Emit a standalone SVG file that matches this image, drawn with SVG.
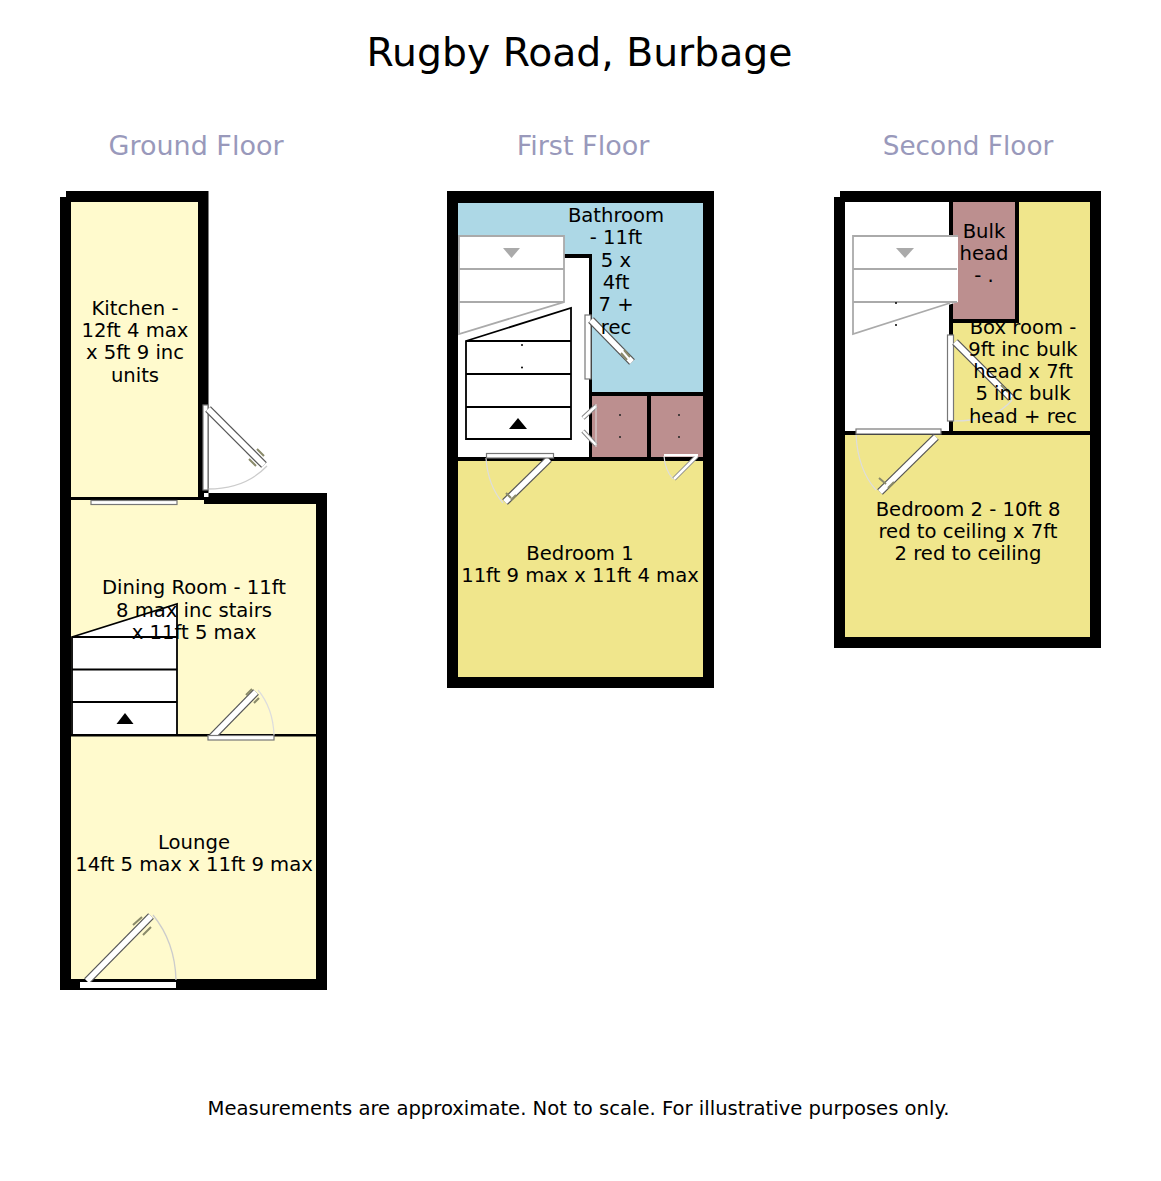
<svg xmlns="http://www.w3.org/2000/svg" width="1161" height="1181" viewBox="0 0 1161 1181">
<style>
text{font-family:"DejaVu Sans",sans-serif;fill:#000;text-anchor:middle}
.t{font-size:39.3px}.h{font-size:27px;fill:#9999bb}.h3{font-size:26.300px}.l{font-size:19.6px}.f{font-size:19.6px}
.w{fill:#000}.s{fill:#fff;stroke:#000;stroke-width:1.800}.g{fill:#fff;stroke:#aaa;stroke-width:1.800}
.d{fill:#fff;stroke:#777;stroke-width:1.200}.a{fill:none;stroke:#ccc;stroke-width:1.300}.a2{fill:none;stroke:#ddd;stroke-width:1.200}.hd{fill:none;stroke:#8a8a6a;stroke-width:2}
.lo{stroke:#555;stroke-width:8}.li{stroke:#fff;stroke-width:5.500}.so{stroke:#888;stroke-width:4.500}.si{stroke:#fff;stroke-width:2.500}
.y1{fill:#fffacd}.y2{fill:#f0e68c}.b{fill:#add8e6}.p{fill:#bc8f8f}
</style>
<rect width="1161" height="1181" fill="#fff"/>
<g id="titles">
<text class="t" x="579.500" y="65.500">Rugby Road, Burbage</text>
<text class="h" x="196" y="155">Ground Floor</text>
<text class="h" x="583" y="155">First Floor</text>
<text class="h h3" x="968" y="155">Second Floor</text>
<text class="f" x="578.500" y="1115">Measurements are approximate. Not to scale. For illustrative purposes only.</text>
</g>
<g id="ground-floor">
<g id="kitchen"><rect class="y1" x="71" y="202" width="127" height="295"/><text class="l" x="135" y="315">Kitchen -</text><text class="l" x="135" y="337">12ft 4 max</text><text class="l" x="135" y="359">x 5ft 9 inc</text><text class="l" x="135" y="382">units</text></g>
<g id="dining-room"><rect class="y1" x="71" y="500" width="245" height="234"/>
<rect class="y1" x="71" y="497" width="133" height="8"/></g>
<g id="lounge"><rect class="y1" x="71" y="736" width="245" height="243"/><text class="l" x="194" y="849">Lounge</text><text class="l" x="194" y="871">14ft 5 max x 11ft 9 max</text></g>
<path class="w" d="M66 191H208.500V497H204V493H327V990H60V197H66V191ZM71 202V979H316V504H204V500H71V497H198V202Z" fill-rule="evenodd"/>
<rect class="w" x="71" y="497" width="127" height="3"/><rect class="w" x="71" y="734" width="245" height="2.500"/>
<g id="ground-stairs">
<path class="s" d="M72 637L177 604V735H72Z"/><path class="s" d="M72 637H177M72 669.500H177M72 702H177" fill="none"/><path class="w" d="M125 713L133.500 724H116.500Z"/>
</g>
<g id="dining-text"><text class="l" x="194" y="594">Dining Room - 11ft</text><text class="l" x="194" y="617">8 max inc stairs</text><text class="l" x="194" y="639">x 11ft 5 max</text></g>
<g id="ground-doors">
<rect class="d" x="91" y="500.500" width="86" height="4"/>
<path class="a" d="M208 489Q245 489 267 466"/><rect class="d" x="203" y="405" width="5" height="85"/><path class="lo" d="M208 409L264 465"/><path class="li" d="M208 409L264 465"/><path class="hd" d="M257 449L264 456M249 459L256 466"/>
<path class="a2" d="M274 735Q273 708 258 690"/><path class="lo" d="M212 737L256 692"/><path class="li" d="M212 737L256 692"/><path class="hd" d="M246 695L252 689M254 703L259 698"/><rect class="d" x="208" y="735.500" width="66" height="4.500"/>
<path class="a" d="M176 980Q175 942 153 915"/><path class="lo" d="M87 981L151 916"/><path class="li" d="M87 981L151 916"/><path class="hd" d="M133 925L142 917M143 935L151 927"/><rect fill="#fff" x="80" y="982" width="96" height="6"/>
</g>
</g>
<g id="first-floor">
<g id="bathroom"><rect class="b" x="458" y="203" width="245" height="189"/></g>
<g id="hall-first"><rect fill="#fff" x="458" y="256" width="131" height="201"/></g>
<g id="cupboards"><rect class="p" x="592" y="396" width="55" height="61"/><rect class="p" x="651" y="396" width="52" height="61"/></g>
<g id="bedroom-1"><rect class="y2" x="458" y="461" width="245" height="216"/><text class="l" x="580" y="560">Bedroom 1</text><text class="l" x="580" y="582">11ft 9 max x 11ft 4 max</text></g>
<path class="w" d="M447 191H714V688H447ZM458 203V677H703V203Z" fill-rule="evenodd"/>
<rect class="w" x="564" y="254" width="28" height="4"/><rect class="w" x="589" y="254" width="3" height="206"/><rect class="w" x="589" y="392" width="114" height="4"/><rect class="w" x="647" y="392" width="4" height="68"/><rect class="w" x="458" y="457" width="245" height="4"/>
<g id="first-stairs-up"><path class="g" d="M459 236H564V302L459 334Z"/><path class="g" d="M459 269H564M459 302H564"/><path fill="#aaa" d="M503 248H520L511.500 258Z"/></g>
<g id="first-stairs-down"><path class="s" d="M466 341L571 308V439H466Z"/><path class="s" d="M466 341H571M466 374H571M466 407H571"/><path class="w" d="M518 418L527 429H509Z"/><circle cx="522" cy="345" r="1"/><circle cx="522" cy="367.500" r="1"/></g>
<g id="first-dots" fill="#222"><circle cx="620" cy="415" r="1"/><circle cx="620" cy="437" r="1"/><circle cx="679" cy="415" r="1"/><circle cx="679" cy="437" r="1"/></g>
<g id="first-doors">
<rect class="d" x="585" y="315" width="6" height="64"/><path class="lo" d="M591 320L632 362"/><path class="li" d="M591 320L632 362"/><path class="hd" d="M621 353L627 360M624 350L630 357"/>
<path class="a2" d="M486 458Q488 486 503 503"/><path class="lo" d="M549 459L505 502"/><path class="li" d="M549 459L505 502"/><path class="hd" d="M506 493L511 498M511 500L516 495"/><rect class="d" x="486.500" y="453.500" width="67" height="4.500"/>
<path class="so" d="M596 406L583 418M596 445L583 431"/><path class="si" d="M596 406L583 418M596 445L583 431"/><path fill="none" stroke="#ddd" d="M596 404V447"/>
<path class="a2" d="M664 456Q665 470 673 479"/><path class="so" d="M697 456L674 479"/><path class="si" d="M697 456L674 479"/><rect fill="#fff" x="664" y="454" width="34" height="2.500"/>
</g>
<g id="bathroom-text"><text class="l" x="616" y="222">Bathroom</text><text class="l" x="616" y="244">- 11ft</text><text class="l" x="616" y="267">5 x</text><text class="l" x="616" y="289">4ft</text><text class="l" x="616" y="311">7 +</text><text class="l" x="616" y="334">rec</text></g>
</g>
<g id="second-floor">
<g id="box-room"><rect class="y2" x="953" y="202" width="137" height="229"/></g>
<g id="bedroom-2"><rect class="y2" x="845" y="435" width="245" height="202"/><text class="l" x="968" y="516">Bedroom 2 - 10ft 8</text><text class="l" x="968" y="538">red to ceiling x 7ft</text><text class="l" x="968" y="560">2 red to ceiling</text></g>
<g id="bulk-head"><rect class="p" x="953" y="202" width="62" height="117"/><text class="l" x="984" y="238">Bulk</text><text class="l" x="984" y="260">head</text><text class="l" x="984" y="282">- .</text></g>
<path class="w" d="M840 191H1101V648H834V197H840ZM845 202V637H1090V202Z" fill-rule="evenodd"/>
<rect class="w" x="949" y="202" width="4" height="232"/><rect class="w" x="1015" y="202" width="4" height="121"/><rect class="w" x="845" y="431" width="245" height="4"/>
<g id="second-stairs"><path fill="#fff" d="M853 236H958V302L853 334Z"/><path fill="none" stroke="#aaa" stroke-width="1.800" d="M958 236H853V334L950 303M853 269H957M853 302H957"/><path fill="#aaa" d="M896 248H914L905 258Z"/><circle cx="896" cy="303" r="1"/><circle cx="896" cy="325" r="1"/></g>
<g id="second-doors">
<path class="a2" d="M953 421Q995 421 1012 400"/><rect class="d" x="947.500" y="335" width="6" height="86"/><path class="lo" d="M955 342L1011 398"/><path class="li" d="M955 342L1011 398"/><path class="hd" d="M1001 385L1008 392"/>
<path class="a2" d="M856 435Q858 470 876 490"/><path class="lo" d="M936 437L880 492"/><path class="li" d="M936 437L880 492"/><path class="hd" d="M879 478L886 484M888 488L894 482"/><rect class="d" x="856" y="429" width="85" height="5"/>
</g>
<g id="box-room-text"><text class="l" x="1023" y="334">Box room -</text><text class="l" x="1023" y="356">9ft inc bulk</text><text class="l" x="1023" y="378">head x 7ft</text><text class="l" x="1023" y="400">5 inc bulk</text><text class="l" x="1023" y="423">head + rec</text></g>
<rect class="w" x="953" y="319" width="66" height="4"/>
</g>
</svg>
